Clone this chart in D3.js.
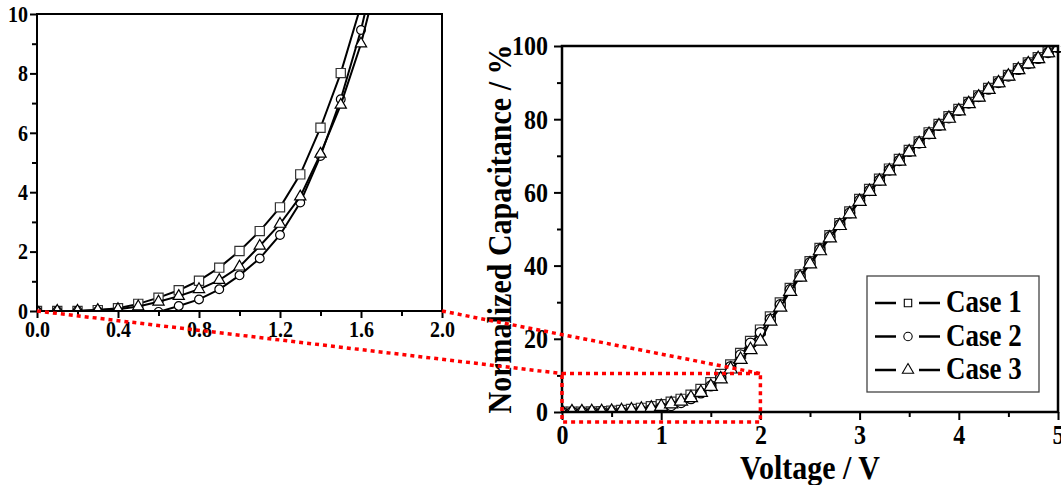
<html>
<head>
<style>
body { margin: 0; background: #fff; }
text { font-family: "Liberation Serif", "Times New Roman", serif; font-weight: bold; fill: #000; }
</style>
</head>
<body>
<svg height="485" width="1061" id="container"></svg>
<script src="https://cdn.jsdelivr.net/npm/d3@7"></script>
<script>
// data
var voltage = [0,0.1,0.2,0.3,0.4,0.5,0.6,0.7,0.8,0.9,1,1.1,1.2,1.3,1.4,1.5,1.6,1.7,1.8,1.9,2,
  2.1,2.2,2.3,2.4,2.5,2.6,2.7,2.8,2.9,3,3.1,3.2,3.3,3.4,3.5,3.6,3.7,3.8,3.9,4,
  4.1,4.2,4.3,4.4,4.5,4.6,4.7,4.8,4.9,5];
var case1 = [0,0,0,0.03,0.09,0.24,0.45,0.70,1.02,1.46,2.02,2.69,3.49,4.60,6.17,8.01,10.3,12.9,16.0,19.3,22.4,
  26.0,29.8,33.8,37.5,41.1,44.7,48.2,51.5,54.7,58.1,60.8,63.6,66.4,69.0,71.5,73.8,76.3,78.6,80.7,82.7,
  84.6,86.4,88.4,90.2,92.0,93.8,95.4,96.8,98.4,99.8];
var case2 = [0,0,0,0,0,0,-0.03,0.17,0.39,0.73,1.20,1.77,2.56,3.65,5.22,7.13,9.46,12.4,15.6,18.8,21.7,
  25.4,29.3,33.4,37.1,40.8,44.4,47.9,51.2,54.4,57.8,60.5,63.3,66.1,68.7,71.2,73.5,76.0,78.3,80.4,82.4,
  84.4,86.2,88.2,90.0,91.8,93.6,95.2,96.6,98.2,99.6];
var case3 = [0,0,0,0.03,0.06,0.15,0.31,0.50,0.73,1.04,1.49,2.19,2.93,3.85,5.29,6.94,9.0,11.7,14.3,17.0,19.3,
  24.8,28.6,32.9,36.8,40.4,44.0,47.5,50.9,54.1,57.5,60.2,63.0,65.8,68.5,71.0,73.3,75.8,78.1,80.2,82.2,
  84.2,86.0,88.1,89.9,91.7,93.5,95.1,96.5,98.1,99.5];
var seriesNames = ["Case 1", "Case 2", "Case 3"];
var mainXTicks = [0,1,2,3,4,5];
var mainYTicks = [0,20,40,60,80,100];
var insetXTicks = [0,0.4,0.8,1.2,1.6,2.0];
var insetYTicks = [0,2,4,6,8,10];
var zoomBox = {x0: 0, x1: 2, y0: -2.7, y1: 10.5};

var svg = d3.select("#container");
var series = [case1, case2, case3].map(function(vals, i){
  return {name: seriesNames[i], pts: vals.map(function(v, j){ return [voltage[j], v]; })};
});
var symbols = [d3.symbolSquare, d3.symbolCircle, d3.symbolTriangle];

//主图
var xM = d3.scaleLinear().domain([0,5]).range([562,1058]);
var yM = d3.scaleLinear().domain([0,100]).range([412,46]);
//插图
var xI = d3.scaleLinear().domain([0,2]).range([37,442]);
var yI = d3.scaleLinear().domain([0,10]).range([311,14]);

//字体在原图里是竖向拉长的
function stretch(sel, sx, sy){
  sel.each(function(){
    var t = d3.select(this);
    var x = +t.attr("x") || 0, y = +t.attr("y") || 0;
    var pre = t.attr("transform") || ("translate(" + x + "," + y + ")");
    t.attr("x", 0).attr("y", 0).attr("transform", pre + " scale(" + sx + "," + sy + ")");
  });
}

function drawAxes(x, y, xt, yt, xMinor, yMinor, fx, fy, opt){
  var gx = svg.append("g").attr("transform","translate(0," + y.range()[0] + ")")
    .call(d3.axisBottom(x).tickValues(xt).tickFormat(fx).tickSize(opt.tick).tickSizeOuter(0).tickPadding(opt.padX));
  svg.append("g").attr("transform","translate(0," + y.range()[0] + ")")
    .call(d3.axisBottom(x).tickValues(xMinor).tickFormat("").tickSize(opt.minor).tickSizeOuter(0));
  var gy = svg.append("g").attr("transform","translate(" + x.range()[0] + ",0)")
    .call(d3.axisLeft(y).tickValues(yt).tickFormat(fy).tickSize(opt.tick).tickSizeOuter(0).tickPadding(opt.padY));
  svg.append("g").attr("transform","translate(" + x.range()[0] + ",0)")
    .call(d3.axisLeft(y).tickValues(yMinor).tickFormat("").tickSize(opt.minor).tickSizeOuter(0));
  svg.selectAll(".tick line").attr("stroke","#000").attr("stroke-width", 2);
  svg.selectAll(".domain").remove();
  [gx, gy].forEach(function(g){
    g.attr("font-family", null).attr("font-size", null);
    var tx = g.selectAll("text").attr("font-size", opt.font);
    stretch(tx, 1, 1.15);
  });
  svg.append("rect")
    .attr("x", x.range()[0]).attr("y", y.range()[1])
    .attr("width", x.range()[1] - x.range()[0]).attr("height", y.range()[0] - y.range()[1])
    .attr("fill","none").attr("stroke","#000").attr("stroke-width", opt.frame);
}

function drawSeries(x, y, clipId, size, lw){
  svg.append("clipPath").attr("id", clipId).append("rect")
    .attr("x", x.range()[0]).attr("y", y.range()[1])
    .attr("width", x.range()[1] - x.range()[0] + 6).attr("height", y.range()[0] - y.range()[1]);
  var g = svg.append("g").attr("clip-path","url(#" + clipId + ")");
  var line = d3.line().x(function(d){ return x(d[0]); }).y(function(d){ return y(d[1]); });
  series.forEach(function(s, i){
    var pts = s.pts.filter(function(d){ return d[0] <= x.domain()[1] + 0.11; });
    g.append("path").attr("d", line(pts)).attr("fill","none").attr("stroke","#000").attr("stroke-width", lw);
    g.selectAll(".m" + i).data(pts.filter(function(d){ return d[0] <= x.domain()[1] + 1e-9; }))
      .enter().append("path")
      .attr("transform", function(d){ return "translate(" + x(d[0]) + "," + y(d[1]) + ")"; })
      .attr("d", d3.symbol().type(symbols[i]).size(size[i]))
      .attr("fill","#fff").attr("stroke", i == 0 ? "#333" : "#000").attr("stroke-width", 1.2);
  });
}

// 主图
drawSeries(xM, yM, "clipMain", [100, 80, 75], 1.8);
drawAxes(xM, yM, mainXTicks, mainYTicks, [0.5,1.5,2.5,3.5,4.5], [10,30,50,70,90],
  d3.format("d"), d3.format("d"), {tick: 8, minor: 5, padX: 4, padY: 6, font: 24, frame: 2.5});

// 插图
drawSeries(xI, yI, "clipInset", [85, 60, 55], 2);
drawAxes(xI, yI, insetXTicks, insetYTicks, [0.2,0.6,1.0,1.4,1.8], [1,3,5,7,9],
  d3.format(".1f"), d3.format("d"), {tick: 7, minor: 5, padX: 3, padY: 2, font: 20, frame: 2});

// 坐标轴标题
var tX = svg.append("text").attr("x", 810).attr("y", 479).attr("text-anchor","middle")
  .attr("font-size", 30).text("Voltage / V");
stretch(tX, 1, 1.12);
svg.append("text").attr("transform","translate(511,229) rotate(-90) scale(1,1.15)").attr("text-anchor","middle")
  .attr("font-size", 30).text("Normalized Capacitance / %");

// 图例
var leg = svg.append("g");
leg.append("rect").attr("x", 867).attr("y", 276).attr("width", 172).attr("height", 116)
  .attr("fill","#fff").attr("stroke","#444").attr("stroke-width", 1.3);
var legY = d3.scalePoint().domain(seriesNames).range([303, 370]);
seriesNames.forEach(function(n, i){
  var yy = legY(n);
  leg.append("line").attr("x1", 875).attr("x2", 896).attr("y1", yy).attr("y2", yy).attr("stroke","#000").attr("stroke-width", 2.5);
  leg.append("line").attr("x1", 919).attr("x2", 940).attr("y1", yy).attr("y2", yy).attr("stroke","#000").attr("stroke-width", 2.5);
  leg.append("path").attr("transform","translate(908," + yy + ")")
    .attr("d", d3.symbol().type(symbols[i]).size(55)).attr("fill","#fff").attr("stroke","#000").attr("stroke-width", 1.1);
  var t = leg.append("text").attr("x", 946).attr("y", yy + 9).attr("font-size", 27).text(n);
  stretch(t, 1, 1.2);
});

// 红色虚线放大框
var red = svg.append("g").attr("fill","none").attr("stroke","#ff0000").attr("stroke-width", 3.5).attr("stroke-dasharray","4,4");
red.append("rect").attr("x", xM(zoomBox.x0)).attr("y", yM(zoomBox.y1))
  .attr("width", xM(zoomBox.x1) - xM(zoomBox.x0)).attr("height", yM(zoomBox.y0) - yM(zoomBox.y1));
red.append("line").attr("x1", xI(zoomBox.x0)).attr("y1", yI(0)).attr("x2", xM(zoomBox.x0)).attr("y2", yM(zoomBox.y1));
red.append("line").attr("x1", xI(zoomBox.x1)).attr("y1", yI(0)).attr("x2", xM(zoomBox.x1)).attr("y2", yM(zoomBox.y1));
</script>
</body>
</html>
